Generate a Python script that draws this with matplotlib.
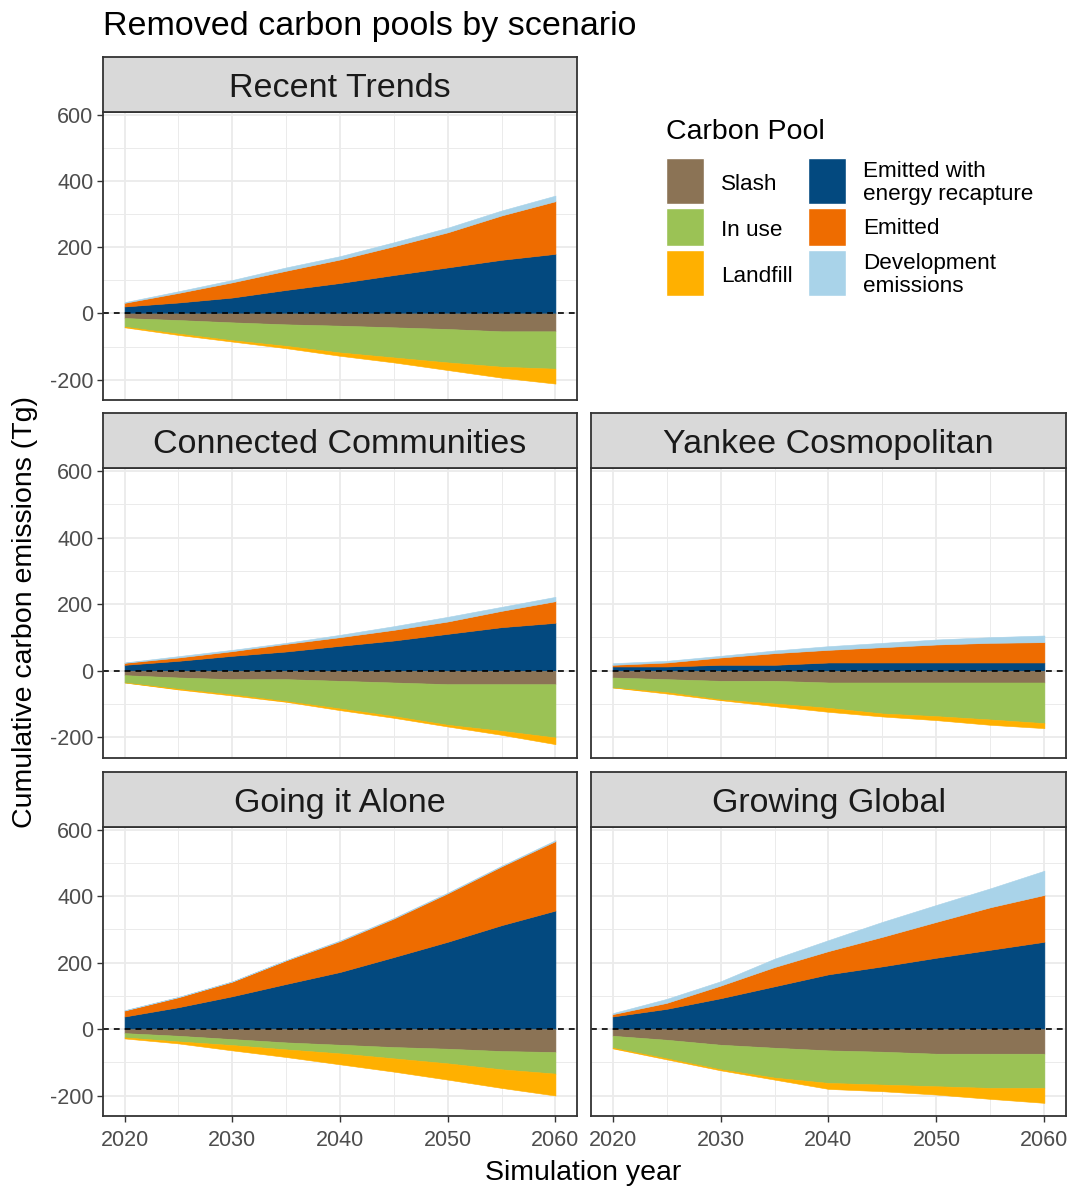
import numpy as np
import matplotlib
matplotlib.use("Agg")
import matplotlib.pyplot as plt
from matplotlib.patches import Rectangle

plt.rcParams["font.family"] = ["Liberation Sans", "DejaVu Sans"]
plt.rcParams["axes.unicode_minus"] = False

# ---- data: cumulative carbon (Tg) by pool, every 5 years ----
years = [2020, 2025, 2030, 2035, 2040, 2045, 2050, 2055, 2060]
scenarios = ["Recent Trends", "Connected Communities", "Yankee Cosmopolitan",
             "Going it Alone", "Growing Global"]

energy_recapture = {
    "Recent Trends":         [21, 33, 48, 71, 92, 116, 139, 162, 180],
    "Connected Communities": [18, 30, 45, 58, 75, 91, 111, 131, 144],
    "Yankee Cosmopolitan":   [13, 13, 18, 18, 25, 25, 25, 25, 25],
    "Going it Alone":        [38, 66, 99, 136, 172, 217, 263, 313, 357],
    "Growing Global":        [38, 61, 93, 129, 165, 189, 215, 239, 263],
}
emitted = {
    "Recent Trends":         [11, 29, 46, 58, 71, 87, 106, 134, 159],
    "Connected Communities": [6, 10, 14, 23, 26, 32, 37, 49, 65],
    "Yankee Cosmopolitan":   [5, 12, 22, 35, 38, 46, 54, 59, 61],
    "Going it Alone":        [18, 30, 44, 71, 93, 116, 146, 177, 209],
    "Growing Global":        [7, 18, 38, 58, 70, 89, 108, 128, 141],
}
development = {
    "Recent Trends":         [2, 5, 7, 10, 10, 12, 14, 15, 17],
    "Connected Communities": [1, 4, 4, 3, 7, 11, 14, 12, 13],
    "Yankee Cosmopolitan":   [5, 5, 5, 8, 11, 13, 15, 17, 20],
    "Going it Alone":        [1, 1, 1, 1, 2, 2, 2, 2, 3],
    "Growing Global":        [3, 12, 13, 25, 33, 45, 51, 57, 73],
}
slash = {
    "Recent Trends":         [-14, -20, -27, -33, -37, -42, -47, -54, -54],
    "Connected Communities": [-13, -20, -25, -25, -30, -35, -40, -40, -40],
    "Yankee Cosmopolitan":   [-20, -25, -30, -30, -35, -35, -35, -35, -35],
    "Going it Alone":        [-12, -20, -30, -40, -47, -54, -59, -66, -69],
    "Growing Global":        [-20, -32, -47, -56, -64, -68, -74, -74, -74],
}
in_use = {
    "Recent Trends":         [-26, -41, -54, -65, -81, -91, -101, -107, -113],
    "Connected Communities": [-22, -34, -46, -66, -83, -101, -122, -140, -160],
    "Yankee Cosmopolitan":   [-30, -39, -56, -68, -76, -93, -101, -111, -122],
    "Going it Alone":        [-13, -17, -18, -21, -26, -34, -44, -55, -65],
    "Growing Global":        [-36, -56, -74, -90, -98, -99, -98, -103, -103],
}
landfill = {
    "Recent Trends":         [-2, -4, -4, -7, -10, -15, -23, -33, -45],
    "Connected Communities": [0, -2, -3, -2, -5, -5, -5, -12, -20],
    "Yankee Cosmopolitan":   [0, -4, -2, -8, -12, -9, -12, -16, -15],
    "Going it Alone":        [-3, -6, -16, -23, -33, -40, -49, -56, -66],
    "Growing Global":        [-2, -3, -3, -6, -18, -20, -25, -33, -45],
}

pool_labels = ["Slash", "In use", "Landfill",
               "Emitted with\nenergy recapture", "Emitted", "Development\nemissions"]
pool_colors = ["#8B7355", "#9BC255", "#FFB000", "#03497F", "#EE6C00", "#A9D3E9"]
C_SLASH, C_INUSE, C_LANDFILL, C_ENERGY, C_EMIT, C_DEV = pool_colors

# ---- figure & layout (pixel geometry) ----
W, H = 1071, 1189
fig = plt.figure(figsize=(W / 100, H / 100), dpi=100)

cols = {0: (103, 577), 1: (591, 1066)}
rows = {0: (112, 400), 1: (468, 758), 2: (827, 1116)}
strip_h = 55
panel_pos = {
    "Recent Trends": (0, 0),
    "Connected Communities": (1, 0),
    "Yankee Cosmopolitan": (1, 1),
    "Going it Alone": (2, 0),
    "Growing Global": (2, 1),
}

def fig_rect(x0, x1, y0, y1):
    return [x0 / W, 1 - y1 / H, (x1 - x0) / W, (y1 - y0) / H]

# shared y limits with 5% expansion
tops = [np.array(energy_recapture[s]) + np.array(emitted[s]) + np.array(development[s]) for s in scenarios]
bots = [np.array(slash[s]) + np.array(in_use[s]) + np.array(landfill[s]) for s in scenarios]
ymax = max(t.max() for t in tops)
ymin = min(b.min() for b in bots)
yr = ymax - ymin
ylim = (ymin - 0.05 * yr, ymax + 0.05 * yr)
xlim = (years[0] - 0.05 * (years[-1] - years[0]), years[-1] + 0.05 * (years[-1] - years[0]))

BORDER = "#333333"
GRID = "#EBEBEB"
TICKC = "#4D4D4D"

for s in scenarios:
    r, c = panel_pos[s]
    x0, x1 = cols[c]
    y0, y1 = rows[r]
    ax = fig.add_axes(fig_rect(x0, x1, y0, y1))
    ax.set_xlim(*xlim)
    ax.set_ylim(*ylim)
    ax.set_facecolor("white")

    ax.set_xticks([2020, 2030, 2040, 2050, 2060])
    ax.set_xticks([2025, 2035, 2045, 2055], minor=True)
    ax.set_yticks([-200, 0, 200, 400, 600])
    ax.set_yticks([-100, 100, 300, 500], minor=True)
    ax.grid(which="major", color=GRID, lw=1.3, zorder=0)
    ax.grid(which="minor", color=GRID, lw=0.7, zorder=0)
    ax.set_axisbelow(True)

    yrs = np.array(years)
    e1 = np.array(energy_recapture[s], float)
    e2 = e1 + np.array(emitted[s])
    e3 = e2 + np.array(development[s])
    n1 = np.array(slash[s], float)
    n2 = n1 + np.array(in_use[s])
    n3 = n2 + np.array(landfill[s])
    kw = dict(lw=0.4, zorder=2)
    ax.fill_between(yrs, 0, e1, color=C_ENERGY, **kw)
    ax.fill_between(yrs, e1, e2, color=C_EMIT, **kw)
    ax.fill_between(yrs, e2, e3, color=C_DEV, **kw)
    ax.fill_between(yrs, 0, n1, color=C_SLASH, **kw)
    ax.fill_between(yrs, n1, n2, color=C_INUSE, **kw)
    ax.fill_between(yrs, n2, n3, color=C_LANDFILL, **kw)

    ax.axhline(0, color="black", lw=1.2, ls=(0, (3.5, 3)), zorder=3)

    for sp in ax.spines.values():
        sp.set_color(BORDER)
        sp.set_linewidth(1.3)
        sp.set_zorder(4)

    show_x = r == 2
    show_y = c == 0
    ax.tick_params(axis="both", which="minor", length=0)
    ax.tick_params(axis="x", which="major", length=4, width=1, color=BORDER,
                   labelsize=15.5, labelcolor=TICKC, pad=6,
                   bottom=show_x, labelbottom=show_x)
    ax.tick_params(axis="y", which="major", length=4, width=1, color=BORDER,
                   labelsize=15.5, labelcolor=TICKC, pad=3,
                   left=show_y, labelleft=show_y)

    # facet strip
    sax = fig.add_axes(fig_rect(x0, x1, y0 - strip_h, y0))
    sax.set_facecolor("#D9D9D9")
    sax.set_xticks([])
    sax.set_yticks([])
    for sp in sax.spines.values():
        sp.set_color(BORDER)
        sp.set_linewidth(1.3)
    sax.text(0.5, 0.43, s, ha="center", va="center", fontsize=24.5,
             color="#1A1A1A", transform=sax.transAxes)

# ---- titles ----
fig.text(103 / W, 1 - 26 / H, "Removed carbon pools by scenario", ha="left",
         va="center", fontsize=24.5, color="black")
fig.text(583 / W, 1 - 1173 / H, "Simulation year", ha="center", va="center",
         fontsize=20.5, color="black")
fig.text(25 / W, 1 - 612 / H, "Cumulative carbon emissions (Tg)", ha="center",
         va="center", rotation=90, fontsize=20.5, color="black")

# ---- legend ----
lax = fig.add_axes([0, 0, 1, 1])
lax.set_xlim(0, W)
lax.set_ylim(H, 0)
lax.axis("off")
lax.text(666, 132, "Carbon Pool", ha="left", va="center", fontsize=20.5, color="black")
key_rows = [(158, 204), (208, 246), (250, 296)]
key_cols = [(666, 704), (808, 846)]
label_x = [721, 863]
for i, (lab, colr) in enumerate(zip(pool_labels, pool_colors)):
    cidx, ridx = divmod(i, 3)
    kx0, kx1 = key_cols[cidx]
    ky0, ky1 = key_rows[ridx]
    lax.add_patch(Rectangle((kx0, ky0), kx1 - kx0, ky1 - ky0, facecolor=colr,
                            edgecolor="white", lw=1))
    dy = 3 if cidx == 0 else 2
    lax.text(label_x[cidx], (ky0 + ky1) / 2 + dy, lab, ha="left", va="center",
             fontsize=16.2, color="black", linespacing=1.15)

fig.savefig("out.png", dpi=100, facecolor="white")
